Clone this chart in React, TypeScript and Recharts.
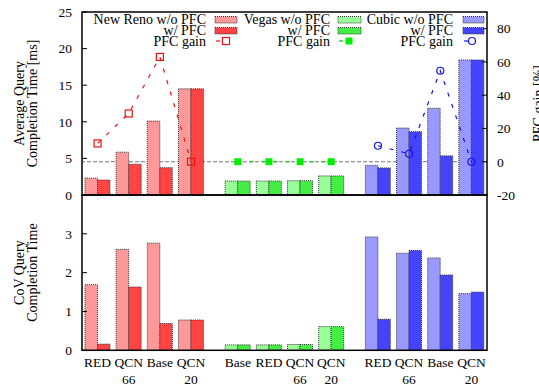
import React from 'react';
import { ComposedChart, Bar, Line, XAxis, YAxis, Cell, ReferenceLine } from 'recharts';

// ---- data ----
const xPositions = [0.5, 1.5, 2.5, 3.5, 5, 6, 7, 8, 9.5, 10.5, 11.5, 12.5];
const categoryLabels: string[][] = [
  ['RED'], ['QCN', '66'], ['Base'], ['QCN', '20'],
  ['Base'], ['RED'], ['QCN', '66'], ['QCN', '20'],
  ['RED'], ['QCN', '66'], ['Base'], ['QCN', '20'],
];
const groupOfCategory = [0, 0, 0, 0, 1, 1, 1, 1, 2, 2, 2, 2];
const protocolNames = ['New Reno', 'Vegas', 'Cubic'];

const avgWithoutPFC = [2.3, 5.85, 10.1, 14.5, 1.9, 1.9, 1.95, 2.6, 4.05, 9.15, 11.85, 18.45];
const avgWithPFC = [2.05, 4.2, 3.73, 14.5, 1.9, 1.9, 1.95, 2.6, 3.7, 8.65, 5.35, 18.45];
const covWithoutPFC = [1.69, 2.6, 2.76, 0.78, 0.14, 0.14, 0.15, 0.61, 2.92, 2.5, 2.38, 1.46];
const covWithPFC = [0.16, 1.63, 0.69, 0.78, 0.14, 0.14, 0.15, 0.61, 0.8, 2.57, 1.94, 1.5];

const gainNewReno = [11, 29, 63, 0];
const gainVegas = [0, 0, 0, 0];
const gainCubic = [9.6, 4.8, 54.7, 0];

const leftTicksTop = [0, 5, 10, 15, 20, 25];
const rightTicksTop = [-20, 0, 20, 40, 60, 80];
const ticksBottom = [0, 1, 2, 3];

// ---- styles ----
const lightColors = ['#ff9999', '#99ff99', '#9999ff'];
const darkColors = ['#ff4444', '#44ee44', '#4444ff'];
const lineColors = ['#ee1111', '#00cc00', '#1111ee'];
const FONT = '"Liberation Serif", "DejaVu Serif", serif';
const tickStyle = { fontFamily: FONT, fontSize: 13.5, fill: '#000' };
const barStroke = '#333';

const gains = [gainNewReno, gainVegas, gainCubic];
const groupStart = [0, 4, 8];

const topData = xPositions.map((x, i) => {
  const g = groupOfCategory[i];
  const k = i - groupStart[g];
  return {
    x,
    without: avgWithoutPFC[i],
    withPfc: avgWithPFC[i],
    gain0: g === 0 ? gains[0][k] : null,
    gain1: g === 1 ? gains[1][k] : null,
    gain2: g === 2 ? gains[2][k] : null,
  };
});
const bottomData = xPositions.map((x, i) => ({
  x,
  without: covWithoutPFC[i],
  withPfc: covWithPFC[i],
}));

const makeDot = (kind: number) => (p: any) => {
  const { cx, cy, index, value } = p;
  if (cx == null || cy == null || value == null || isNaN(cy)) return <g key={'d' + index} />;
  const c = lineColors[kind];
  if (kind === 0)
    return <rect key={'d' + index} x={cx - 3.5} y={cy - 3.5} width={7} height={7} fill="none" stroke={c} strokeWidth={1.2} />;
  if (kind === 1)
    return <rect key={'d' + index} x={cx - 3.5} y={cy - 3.5} width={7} height={7} fill="#00ee00" stroke="none" />;
  return <circle key={'d' + index} cx={cx} cy={cy} r={3.5} fill="none" stroke={c} strokeWidth={1.2} />;
};

const CategoryTick = (props: any) => {
  const { x, y, payload } = props;
  const idx = xPositions.indexOf(payload.value);
  const lines = categoryLabels[idx] || [];
  return (
    <g>
      {lines.map((t, k) => (
        <text key={k} x={x} y={y + 17 + k * 16.5} textAnchor="middle" style={tickStyle}>
          {t}
        </text>
      ))}
    </g>
  );
};

const Legend = () => {
  const textEnds = [206, 330, 453];
  const swX = [215, 338, 463];
  const swW = [22, 23, 21];
  const rows = [24, 35, 45.5];
  return (
    <g style={{ fontFamily: FONT, fontSize: 14 }}>
      {protocolNames.map((name, g) => (
        <g key={name}>
          <text x={textEnds[g]} y={rows[0]} textAnchor="end">{name + ' w/o PFC'}</text>
          <text x={textEnds[g]} y={rows[1]} textAnchor="end">w/ PFC</text>
          <text x={textEnds[g]} y={rows[2]} textAnchor="end">PFC gain</text>
          <rect x={swX[g]} y={16.5} width={swW[g]} height={6.5} fill={lightColors[g]} stroke={barStroke} strokeDasharray="1 1" />
          <rect x={swX[g]} y={27.5} width={swW[g]} height={6.5} fill={darkColors[g]} stroke={barStroke} strokeDasharray="1 1" />
          <line x1={swX[g] + 1} x2={swX[g] + 5} y1={41} y2={41} stroke={lineColors[g]} strokeWidth={1.2} />
          {g === 0 && <rect x={swX[g] + 11 - 3.5} y={41 - 3.5} width={7} height={7} fill="none" stroke={lineColors[0]} strokeWidth={1.2} />}
          {g === 1 && <rect x={swX[g] + 11 - 3.5} y={41 - 3.5} width={7} height={7} fill="#00ee00" />}
          {g === 2 && <circle cx={swX[g] + 9} cy={41} r={3.5} fill="none" stroke={lineColors[2]} strokeWidth={1.2} />}
        </g>
      ))}
    </g>
  );
};

export default function App() {
  return (
    <div style={{ position: 'absolute', left: 0, top: 0, width: 539, height: 389, background: '#fff', overflow: 'hidden' }}>
      <style>{'.recharts-surface{overflow:visible}'}</style>
      {/* background layer: zero-gain reference line drawn behind the bars */}
      <div style={{ position: 'absolute', left: 0, top: 0 }}>
        <ComposedChart width={539} height={196} data={topData} margin={{ top: 12, right: 0, bottom: 1, left: 0 }}>
          <XAxis dataKey="x" type="number" domain={[0, 13]} ticks={xPositions} hide />
          <YAxis yAxisId="left" orientation="left" width={82} domain={[0, 25]} tick={false} axisLine={false} tickLine={false} />
          <YAxis yAxisId="right" orientation="right" width={52} domain={[-20, 90]} tick={false} axisLine={false} tickLine={false} />
          <Line yAxisId="right" dataKey="gain1" stroke="none" dot={false} activeDot={false} isAnimationActive={false} />
          <ReferenceLine yAxisId="right" y={0} stroke="#777" strokeWidth={1.2} strokeDasharray="4 2" />
        </ComposedChart>
      </div>
      <div style={{ position: 'absolute', left: 0, top: 0 }}>
        <ComposedChart width={539} height={196} data={topData} margin={{ top: 12, right: 0, bottom: 1, left: 0 }} barGap={0}>
          <XAxis dataKey="x" type="number" domain={[0, 13]} ticks={xPositions} hide />
          <YAxis yAxisId="left" orientation="left" width={82} domain={[0, 25]} ticks={leftTicksTop} interval={0}
            axisLine={false} tickSize={-5} tickMargin={15} tickLine={{ stroke: '#000' }} tick={tickStyle} />
          <YAxis yAxisId="right" orientation="right" width={52} domain={[-20, 90]} ticks={rightTicksTop} interval={0}
            axisLine={false} tickSize={-5} tickMargin={15} tickLine={{ stroke: '#000' }} tick={{ ...tickStyle, textAnchor: 'start' }} />
          <Bar yAxisId="left" dataKey="without" barSize={12.5} isAnimationActive={false} stroke={barStroke} strokeDasharray="1 1">
            {topData.map((d, i) => <Cell key={i} fill={lightColors[groupOfCategory[i]]} />)}
          </Bar>
          <Bar yAxisId="left" dataKey="withPfc" barSize={12.5} isAnimationActive={false} stroke={barStroke} strokeDasharray="1 1">
            {topData.map((d, i) => <Cell key={i} fill={darkColors[groupOfCategory[i]]} />)}
          </Bar>
          {[0, 1, 2].map((g) => (
            <Line key={g} yAxisId="right" dataKey={'gain' + g} stroke={lineColors[g]} strokeWidth={1.2} strokeDasharray="4 8"
              dot={makeDot(g)} activeDot={false} isAnimationActive={false} connectNulls={false} />
          ))}
        </ComposedChart>
      </div>
      <div style={{ position: 'absolute', left: 0, top: 195 }}>
        <ComposedChart width={539} height={194} data={bottomData} margin={{ top: 0, right: 0, bottom: 0, left: 0 }} barGap={0}>
          <XAxis dataKey="x" type="number" domain={[0, 13]} ticks={xPositions} interval={0} height={38.7}
            axisLine={false} tickLine={false} tickSize={0} tickMargin={0} tick={<CategoryTick />} />
          <YAxis yAxisId="left" orientation="left" width={82} domain={[0, 4]} ticks={ticksBottom} interval={0}
            axisLine={false} tickSize={-5} tickMargin={15} tickLine={{ stroke: '#000' }} tick={tickStyle} />
          <YAxis yAxisId="right" orientation="right" width={52} domain={[0, 4]} ticks={ticksBottom} interval={0}
            axisLine={false} tickSize={-5} tickMargin={15} tickLine={{ stroke: '#000' }} tick={{ ...tickStyle, textAnchor: 'start' }} />
          <Bar yAxisId="left" dataKey="without" barSize={12.5} isAnimationActive={false} stroke={barStroke} strokeDasharray="1 1">
            {bottomData.map((d, i) => <Cell key={i} fill={lightColors[groupOfCategory[i]]} />)}
          </Bar>
          <Bar yAxisId="left" dataKey="withPfc" barSize={12.5} isAnimationActive={false} stroke={barStroke} strokeDasharray="1 1">
            {bottomData.map((d, i) => <Cell key={i} fill={darkColors[groupOfCategory[i]]} />)}
          </Bar>
        </ComposedChart>
      </div>
      <svg width={539} height={389} style={{ position: 'absolute', left: 0, top: 0, pointerEvents: 'none' }}>
        <rect x={82} y={12} width={405} height={183} fill="none" stroke="#000" strokeWidth={1.5} />
        <rect x={82} y={195} width={405} height={155.3} fill="none" stroke="#000" strokeWidth={1.5} />
        <Legend />
        <g style={{ fontFamily: FONT, fontSize: 14 }}>
          <text transform="translate(19,103.5) rotate(-90)" textAnchor="middle" dominantBaseline="central">Average Query</text>
          <text transform="translate(32.5,103.5) rotate(-90)" textAnchor="middle" dominantBaseline="central">Completion Time [ms]</text>
          <text transform="translate(19,272.6) rotate(-90)" textAnchor="middle" dominantBaseline="central">CoV Query</text>
          <text transform="translate(32.5,272.6) rotate(-90)" textAnchor="middle" dominantBaseline="central">Completion Time</text>
          <text transform="translate(538.5,103.5) rotate(-90)" textAnchor="middle" dominantBaseline="central">PFC gain [%]</text>
        </g>
      </svg>
    </div>
  );
}
